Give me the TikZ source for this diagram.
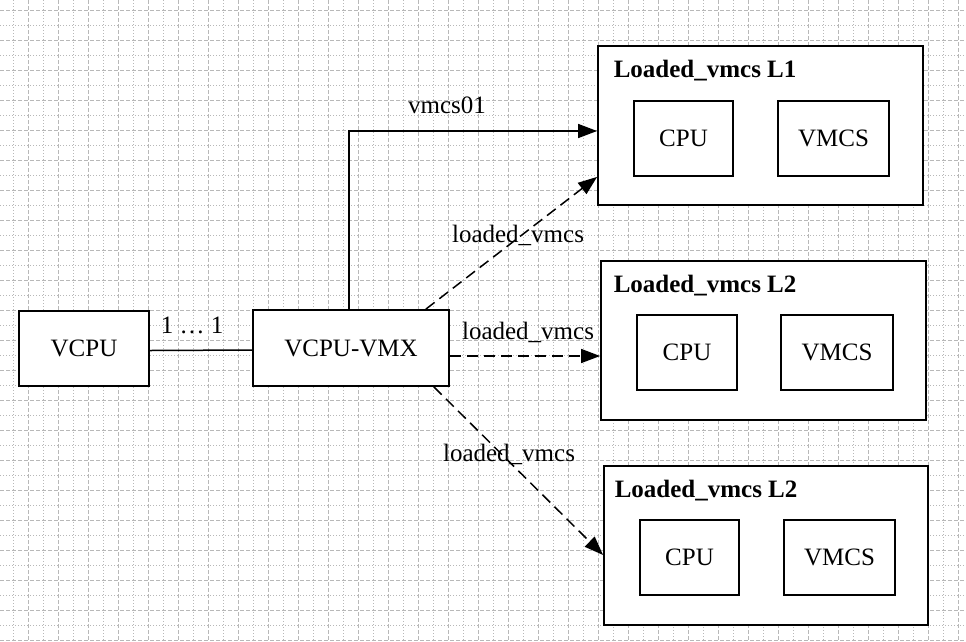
\documentclass[tikz,border=0pt]{standalone}
\usepackage{fontspec}
\setmainfont{Liberation Serif}
\usetikzlibrary{arrows.meta}

\begin{document}
\begin{tikzpicture}[x=1pt, y=-1pt, line width=1.5pt,
        font=\fontsize{25}{29}\selectfont,
        gridmajor/.style={line width=0.8pt, draw=black!28, dash pattern=on 4pt off 2pt},
        gridminor/.style={line width=0.8pt, draw=black!28, dash pattern=on 1pt off 2pt},
        box/.style={draw, line width=1.8pt, fill=white, inner sep=0pt, minimum width=#1, minimum height=75pt},
        frame/.style={draw, line width=1.8pt, fill=white, minimum width=#1, minimum height=159pt},
        title/.style={anchor=base west, inner sep=0pt, font=\fontsize{25}{29}\selectfont\bfseries},
        tag/.style={anchor=base},
        link/.style={-{Triangle[length=19pt,width=14pt]}},
        loaded/.style={link, dash pattern=on 11pt off 6pt}]
            \useasboundingbox (0,0) rectangle (966,641);
            % grid
            \foreach \x in {13.3, 43.3, ..., 966} {
                    \draw[gridminor] (\x,0) -- (\x,641);
            }
            \foreach \x in {28.3, 58.3, ..., 966} {
                    \draw[gridmajor] (\x,0) -- (\x,641);
            }
            \foreach \y in {25, 55, ..., 641} {
                    \draw[gridminor] (0,\y) -- (966,\y);
            }
            \foreach \y in {10, 40, ..., 641} {
                    \draw[gridmajor] (0,\y) -- (966,\y);
            }
            % vcpu side
            \node[box=130pt] (vcpu) at (84,348.5) {VCPU};
            \node[box=196pt, minimum height=76pt] (vmx) at (351,348) {VCPU-VMX};
            % loaded vmcs blocks
            \node[frame=325pt] (l1) at (760.5,125.5) {};
            \node[title] (l1t) at (613,77) {Loaded\_vmcs L1};
            \node[box=99pt] (l1cpu) at (683.5,138.5) {CPU};
            \node[box=111pt] (l1vmcs) at (833.5,138.5) {VMCS};
            \node[frame=325pt] (l2) at (763.5,340.5) {};
            \node[title] (l2t) at (613,292) {Loaded\_vmcs L2};
            \node[box=100pt] (l2cpu) at (687,352.5) {CPU};
            \node[box=112pt] (l2vmcs) at (837,352.5) {VMCS};
            \node[frame=324pt] (l3) at (766,545.5) {};
            \node[title] (l3t) at (614,497) {Loaded\_vmcs L2};
            \node[box=99pt] (l3cpu) at (689.5,557.5) {CPU};
            \node[box=111pt] (l3vmcs) at (839.5,557.5) {VMCS};
            % links
            \draw ([yshift=-2pt]vcpu.east) -- ([yshift=-2pt]vmx.west);
            \node[tag] (ratio) at (192,333) {1 … 1};
            \draw[link] ([xshift=-2pt]vmx.north) |- ([yshift=-5.5pt]l1.west);
            \node[tag] (v01) at (447,113) {vmcs01};
            \draw[loaded] ([xshift=-24pt]vmx.north east) -- ([yshift=29pt]l1.south west);
            \node[tag] (lv1) at (518,242) {loaded\_vmcs};
            \draw[loaded] ([yshift=-8pt]vmx.east) -- ([yshift=-15.5pt]l2.west);
            \node[tag] (lv2) at (528,339) {loaded\_vmcs};
            \draw[loaded] ([xshift=-16pt]vmx.south east) -- ([yshift=-9.5pt]l3.west);
            \node[tag] (lv3) at (509,461) {loaded\_vmcs};
    \end{tikzpicture}
\end{document}
